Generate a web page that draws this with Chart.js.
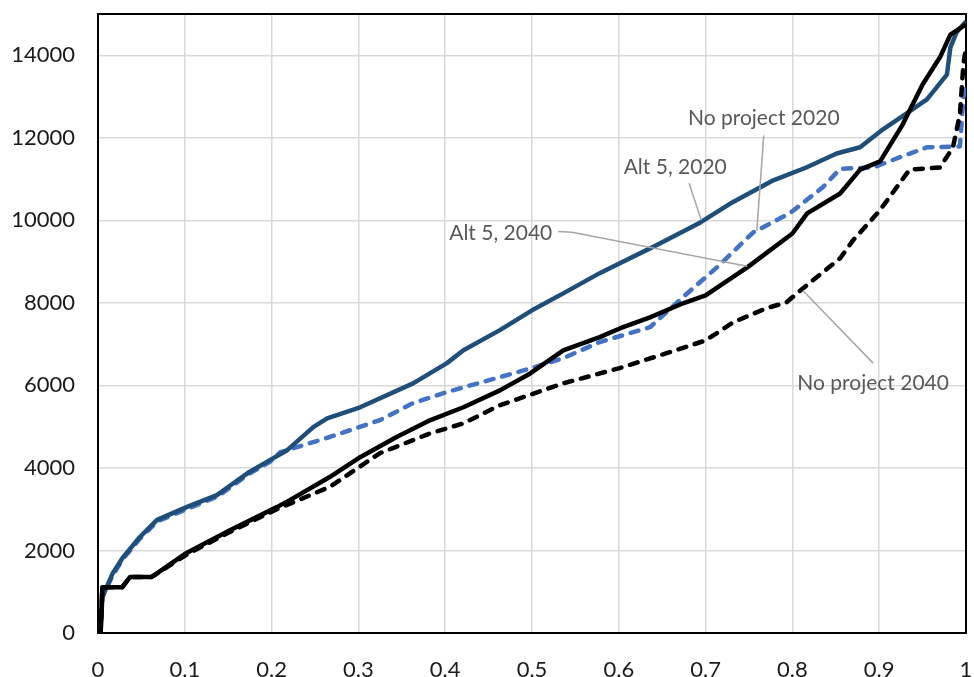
<!DOCTYPE html>
<html>
<head>
<meta charset="utf-8">
<script src="https://cdn.jsdelivr.net/npm/chart.js"></script>
<style>
  html, body { margin: 0; padding: 0; background: #fff; }
  #wrap { width: 974px; height: 677px; }
</style>
</head>
<body>
<div id="wrap"><canvas id="cdf" width="974" height="677"></canvas></div>
<script>
// series (x = share, y = value)
const alt2020X = [0, 0.003, 0.005, 0.017, 0.029, 0.048, 0.068, 0.102, 0.137, 0.156, 0.172, 0.198, 0.218, 0.248, 0.264, 0.302, 0.363, 0.402, 0.421, 0.463, 0.50, 0.536, 0.578, 0.60, 0.636, 0.694, 0.728, 0.778, 0.816, 0.851, 0.878, 0.904, 0.935, 0.955, 0.978, 0.982, 0.989, 1.0];
const alt2020Y = [0, 0, 870, 1450, 1840, 2320, 2740, 3050, 3340, 3630, 3870, 4190, 4430, 4990, 5200, 5470, 6050, 6540, 6850, 7340, 7820, 8230, 8720, 8950, 9320, 9950, 10400, 10970, 11280, 11620, 11770, 12200, 12640, 12930, 13530, 14190, 14550, 14820];

const noProj2020X = [0, 0.003, 0.005, 0.017, 0.029, 0.048, 0.068, 0.102, 0.137, 0.156, 0.172, 0.198, 0.21, 0.267, 0.325, 0.363, 0.402, 0.463, 0.498, 0.536, 0.578, 0.636, 0.674, 0.713, 0.755, 0.797, 0.835, 0.855, 0.893, 0.924, 0.955, 0.993, 0.997, 1.0];
const noProj2020Y = [0, 0, 870, 1400, 1800, 2280, 2700, 3000, 3300, 3580, 3830, 4150, 4380, 4750, 5160, 5570, 5840, 6200, 6410, 6660, 7050, 7410, 8140, 8860, 9710, 10170, 10800, 11250, 11280, 11530, 11770, 11790, 12980, 13370];

const alt2040X = [0, 0.003, 0.005, 0.028, 0.037, 0.062, 0.102, 0.152, 0.206, 0.221, 0.267, 0.302, 0.344, 0.383, 0.421, 0.463, 0.498, 0.536, 0.578, 0.601, 0.636, 0.674, 0.70, 0.748, 0.80, 0.817, 0.855, 0.878, 0.901, 0.927, 0.950, 0.970, 0.982, 1.0];
const alt2040Y = [0, 0, 1110, 1110, 1360, 1360, 1940, 2490, 3050, 3220, 3780, 4260, 4750, 5160, 5470, 5880, 6290, 6850, 7170, 7380, 7650, 7990, 8180, 8860, 9680, 10170, 10650, 11230, 11430, 12320, 13290, 13950, 14500, 14750];

const noProj2040X = [0, 0.003, 0.005, 0.028, 0.037, 0.062, 0.102, 0.152, 0.206, 0.267, 0.325, 0.383, 0.421, 0.463, 0.536, 0.601, 0.655, 0.70, 0.732, 0.77, 0.793, 0.812, 0.855, 0.87, 0.90, 0.935, 0.97, 0.985, 0.993, 0.997, 1.0];
const noProj2040Y = [0, 0, 1110, 1110, 1360, 1360, 1900, 2450, 3000, 3540, 4360, 4840, 5080, 5520, 6050, 6420, 6780, 7090, 7530, 7870, 8010, 8350, 9080, 9520, 10220, 11230, 11280, 11770, 12570, 13780, 14190];

// axis ticks
const yTicks = [0, 2000, 4000, 6000, 8000, 10000, 12000, 14000];
const xTicks = [0, 0.1, 0.2, 0.3, 0.4, 0.5, 0.6, 0.7, 0.8, 0.9, 1];

// callout labels, in data units
const noteText = ['No project 2020', 'Alt 5, 2020', 'Alt 5, 2040', 'No project 2040'];
const noteX = [0.767, 0.665, 0.464, 0.893];
const noteY = [12470, 11280, 9690, 6050];
const leaderX = [[0.767, 0.759], [0.681, 0.695], [0.53, 0.546, 0.748], [0.893, 0.812]];
const leaderY = [[12060, 9750], [10900, 10000], [9730, 9710, 8890], [6540, 8300]];

function pts(xs, ys) {
  return xs.map((x, i) => ({ x: x, y: ys[i] }));
}

function noPad(s) {
  s.paddingTop = 0; s.paddingBottom = 0; s.paddingLeft = 0; s.paddingRight = 0;
}

const frameAndNotes = {
  id: 'frameAndNotes',
  beforeDatasetsDraw(chart) {
    const a = chart.chartArea, ctx = chart.ctx;
    ctx.save();
    ctx.strokeStyle = '#000';
    ctx.lineWidth = 2;
    ctx.strokeRect(a.left, a.top, a.right - a.left, a.bottom - a.top);
    ctx.restore();
  },
  afterDatasetsDraw(chart) {
    const ctx = chart.ctx, sx = chart.scales.x, sy = chart.scales.y;
    ctx.save();
    ctx.strokeStyle = '#a6a6a6';
    ctx.lineWidth = 1.5;
    leaderX.forEach((xs, k) => {
      ctx.beginPath();
      xs.forEach((x, i) => {
        const px = sx.getPixelForValue(x), py = sy.getPixelForValue(leaderY[k][i]);
        if (i === 0) ctx.moveTo(px, py); else ctx.lineTo(px, py);
      });
      ctx.stroke();
    });
    ctx.fillStyle = '#595959';
    ctx.font = '21px Lato';
    ctx.textAlign = 'center';
    ctx.textBaseline = 'middle';
    noteText.forEach((t, i) => {
      ctx.fillText(t, sx.getPixelForValue(noteX[i]), sy.getPixelForValue(noteY[i]));
    });
    ctx.restore();
  }
};

new Chart(document.getElementById('cdf').getContext('2d'), {
  type: 'line',
  data: {
    datasets: [
      { label: 'Alt 5, 2040', data: pts(alt2040X, alt2040Y), borderColor: '#000000', borderWidth: 4.5 },
      { label: 'No project 2040', data: pts(noProj2040X, noProj2040Y), borderColor: '#000000', borderWidth: 4.5, borderDash: [8, 9], borderCapStyle: 'round' },
      { label: 'Alt 5, 2020', data: pts(alt2020X, alt2020Y), borderColor: '#1f4e79', borderWidth: 4.5 },
      { label: 'No project 2020', data: pts(noProj2020X, noProj2020Y), borderColor: '#4472c4', borderWidth: 4.5, borderDash: [8, 9], borderCapStyle: 'round' }
    ]
  },
  options: {
    responsive: false,
    animation: false,
    devicePixelRatio: 1,
    layout: { padding: { top: 14, right: 8, left: 0, bottom: 0 } },
    elements: {
      point: { radius: 0 },
      line: { tension: 0, borderJoinStyle: 'round', fill: false }
    },
    plugins: { legend: { display: false }, tooltip: { enabled: false } },
    scales: {
      x: {
        type: 'linear', min: 0, max: 1,
        grid: { color: '#d9d9d9', lineWidth: 1.5, drawTicks: false },
        border: { display: false },
        ticks: {
          padding: 24, color: '#1a1a1a',
          font: { family: 'Lato', size: 22 },
          callback: v => String(Number(v.toFixed(1)))
        },
        afterBuildTicks: s => { s.ticks = xTicks.map(v => ({ value: v })); },
        afterFit: s => { s.height = 44; noPad(s); }
      },
      y: {
        type: 'linear', min: 0, max: 15000,
        grid: { color: '#d9d9d9', lineWidth: 1.5, drawTicks: false },
        border: { display: false },
        ticks: {
          padding: 23, color: '#1a1a1a',
          font: { family: 'Lato', size: 22 },
          callback: v => String(v)
        },
        afterBuildTicks: s => { s.ticks = yTicks.map(v => ({ value: v })); },
        afterFit: s => { s.width = 98; noPad(s); }
      }
    }
  },
  plugins: [frameAndNotes]
});
</script>
</body>
</html>
